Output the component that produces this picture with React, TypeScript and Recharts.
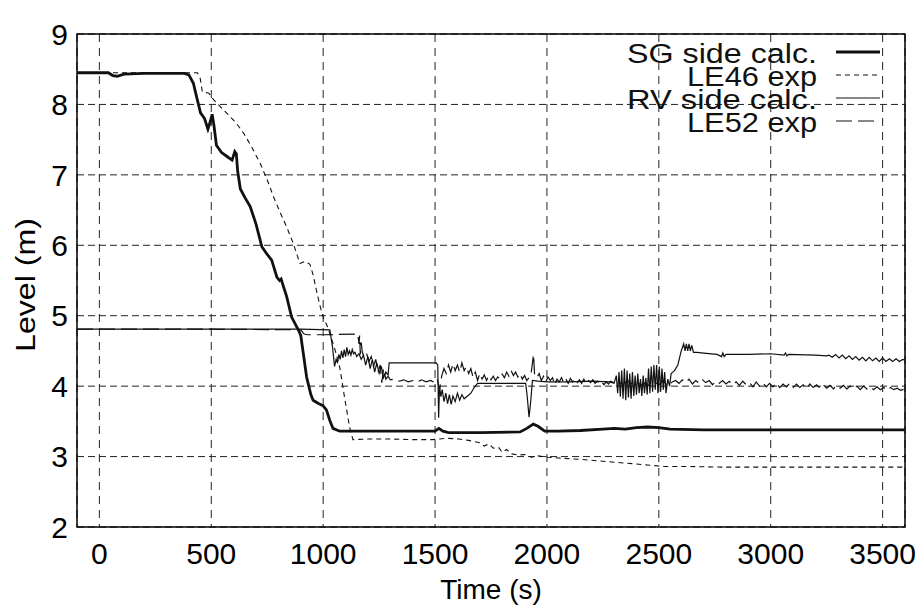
import {
  CartesianGrid,
  Legend,
  Line,
  LineChart,
  ReferenceArea,
  XAxis,
  YAxis,
} from "recharts";

type Pt = { t: number; v: number };

const FONT = '"Liberation Sans", Arial, Helvetica, sans-serif';
const INK = "#111";

// axis ticks
const xMajorTicks = [0, 500, 1000, 1500, 2000, 2500, 3000, 3500];
const yMajorTicks = [2, 3, 4, 5, 6, 7, 8, 9];
const xMinorTicks = [
  -100, 0, 100, 200, 300, 400, 500, 600, 700, 800, 900, 1000, 1100, 1200, 1300,
  1400, 1500, 1600, 1700, 1800, 1900, 2000, 2100, 2200, 2300, 2400, 2500, 2600,
  2700, 2800, 2900, 3000, 3100, 3200, 3300, 3400, 3500, 3600,
];
const yMinorTicks = [
  2, 2.2, 2.4, 2.6, 2.8, 3, 3.2, 3.4, 3.6, 3.8, 4, 4.2, 4.4, 4.6, 4.8, 5, 5.2,
  5.4, 5.6, 5.8, 6, 6.2, 6.4, 6.6, 6.8, 7, 7.2, 7.4, 7.6, 7.8, 8, 8.2, 8.4, 8.6,
  8.8, 9,
];

// [time (s), level (m)]
const sgSideCalc: [number, number][] = [
  [-100, 8.45], [0, 8.45], [40, 8.45], [60, 8.41], [80, 8.4], [110, 8.43],
  [200, 8.44], [300, 8.44], [380, 8.44], [400, 8.42], [420, 8.3], [435, 8.1],
  [452, 7.88], [470, 7.8], [485, 7.65], [495, 7.75], [504, 7.86], [512, 7.7],
  [523, 7.42], [545, 7.32], [575, 7.25], [593, 7.21], [605, 7.33], [612, 7.3],
  [618, 7.05], [630, 6.8], [650, 6.68], [674, 6.55], [700, 6.3], [726, 5.98],
  [750, 5.87], [770, 5.79], [793, 5.55], [805, 5.5], [812, 5.52], [837, 5.27],
  [859, 4.98], [889, 4.8], [900, 4.72], [926, 4.13], [945, 3.88], [955, 3.8],
  [975, 3.76], [1000, 3.72], [1015, 3.66], [1029, 3.52], [1044, 3.4],
  [1074, 3.36], [1200, 3.36], [1400, 3.36], [1500, 3.36], [1517, 3.4],
  [1535, 3.36], [1560, 3.34], [1700, 3.34], [1880, 3.35], [1910, 3.4],
  [1939, 3.46], [1960, 3.43], [1990, 3.36], [2050, 3.36], [2150, 3.37],
  [2250, 3.39], [2300, 3.4], [2350, 3.39], [2400, 3.41], [2450, 3.42],
  [2500, 3.41], [2550, 3.39], [2700, 3.38], [3000, 3.38], [3300, 3.38],
  [3600, 3.38],
];

const le46Exp: [number, number][] = [
  [-100, 8.45], [200, 8.45], [400, 8.45], [438, 8.45], [450, 8.38], [460, 8.18],
  [489, 8.16], [512, 8.06], [540, 7.97], [571, 7.87], [610, 7.74], [645, 7.59],
  [680, 7.4], [719, 7.16], [750, 6.93], [778, 6.69], [810, 6.45], [837, 6.26],
  [866, 6.03], [896, 5.74], [918, 5.77], [941, 5.73], [955, 5.58], [970, 5.36],
  [985, 5.15], [1000, 4.98], [1020, 4.84], [1050, 4.55], [1074, 4.27],
  [1095, 3.85], [1118, 3.42], [1133, 3.24], [1200, 3.25], [1300, 3.25],
  [1400, 3.24], [1488, 3.24], [1550, 3.26], [1606, 3.25], [1650, 3.23],
  [1695, 3.2], [1720, 3.15], [1740, 3.18], [1760, 3.12], [1784, 3.13],
  [1800, 3.06], [1820, 3.1], [1840, 3.04], [1872, 3.02], [1900, 3.03],
  [1930, 2.99], [1960, 3.01], [2005, 2.99], [2050, 2.98], [2100, 2.97],
  [2150, 2.96], [2227, 2.94], [2300, 2.92], [2380, 2.9], [2449, 2.88],
  [2523, 2.86], [2600, 2.86], [2800, 2.85], [3000, 2.85], [3300, 2.85],
  [3600, 2.85],
];

const rvSideCalc: [number, number][] = [
  [-100, 4.81], [500, 4.81], [900, 4.81], [1030, 4.8], [1042, 4.55],
  [1051, 4.28], [1058, 4.38], [1064, 4.34], [1070, 4.45], [1076, 4.38],
  [1082, 4.5], [1088, 4.4], [1094, 4.52], [1100, 4.42], [1106, 4.55],
  [1112, 4.45], [1118, 4.5], [1124, 4.44], [1130, 4.52], [1136, 4.46],
  [1142, 4.48], [1150, 4.42], [1160, 4.46], [1170, 4.38], [1180, 4.44],
  [1190, 4.3], [1200, 4.42], [1210, 4.25], [1220, 4.38], [1230, 4.2],
  [1240, 4.33], [1250, 4.18], [1260, 4.28], [1270, 4.12], [1280, 4.2],
  [1290, 4.16], [1295, 4.33], [1400, 4.33], [1505, 4.33], [1512, 4.3],
  [1516, 3.55], [1520, 4.0], [1526, 3.85], [1532, 3.95], [1540, 3.78],
  [1548, 3.9], [1556, 3.75], [1564, 3.88], [1572, 3.74], [1580, 3.86],
  [1590, 3.78], [1600, 3.9], [1610, 3.8], [1620, 3.88], [1630, 3.82],
  [1645, 3.86], [1660, 3.9], [1675, 3.98], [1690, 4.04], [1750, 4.04],
  [1850, 4.04], [1905, 4.04], [1912, 3.85], [1920, 3.56], [1928, 3.8],
  [1935, 4.08], [1960, 4.07], [2000, 4.06], [2100, 4.06], [2200, 4.07],
  [2280, 4.06], [2300, 4.04], [2310, 4.15], [2316, 3.9], [2322, 4.2],
  [2328, 3.85], [2334, 4.22], [2340, 3.82], [2346, 4.25], [2352, 3.8],
  [2358, 4.22], [2364, 3.84], [2370, 4.18], [2376, 3.82], [2382, 4.2],
  [2388, 3.86], [2394, 4.15], [2400, 3.88], [2406, 4.18], [2412, 3.9],
  [2418, 4.1], [2424, 3.86], [2430, 4.15], [2436, 3.9], [2442, 4.12],
  [2448, 3.88], [2454, 4.25], [2460, 3.9], [2466, 4.28], [2472, 3.92],
  [2478, 4.3], [2484, 3.95], [2490, 4.3], [2496, 3.9], [2502, 4.28],
  [2508, 3.92], [2514, 4.25], [2520, 3.95], [2526, 4.2], [2532, 3.9],
  [2540, 4.1], [2548, 4.0], [2555, 4.18], [2570, 4.22], [2585, 4.3],
  [2600, 4.5], [2611, 4.6], [2617, 4.5], [2623, 4.6], [2629, 4.5],
  [2635, 4.6], [2641, 4.5], [2647, 4.58], [2655, 4.48], [2670, 4.48],
  [2700, 4.47], [2760, 4.45], [2780, 4.42], [2786, 4.47], [2792, 4.42],
  [2800, 4.45], [2900, 4.45], [3000, 4.46], [3060, 4.44], [3066, 4.47],
  [3072, 4.43], [3080, 4.45], [3200, 4.44], [3250, 4.43], [3260, 4.44],
  [3275, 4.41], [3290, 4.45], [3305, 4.4], [3320, 4.44], [3335, 4.39],
  [3350, 4.43], [3365, 4.38], [3380, 4.42], [3395, 4.37], [3410, 4.41],
  [3425, 4.36], [3440, 4.41], [3455, 4.36], [3470, 4.4], [3485, 4.35],
  [3500, 4.4], [3515, 4.35], [3530, 4.39], [3545, 4.35], [3560, 4.39],
  [3575, 4.35], [3590, 4.38], [3600, 4.37],
];

const le52Exp: [number, number][] = [
  [-100, 4.81], [400, 4.81], [900, 4.8], [915, 4.74], [930, 4.73], [1000, 4.73],
  [1155, 4.74], [1160, 4.6], [1163, 4.72], [1166, 4.45], [1170, 4.62],
  [1175, 4.48], [1185, 4.4], [1195, 4.45], [1205, 4.35], [1215, 4.42],
  [1225, 4.28], [1235, 4.38], [1245, 4.2], [1255, 4.3], [1262, 4.05],
  [1270, 4.25], [1280, 4.1], [1290, 4.14], [1300, 4.09], [1320, 4.1],
  [1340, 4.07], [1360, 4.09], [1380, 4.06], [1400, 4.08], [1420, 4.06],
  [1440, 4.09], [1460, 4.06], [1480, 4.08], [1500, 4.05], [1510, 4.1],
  [1520, 3.95], [1530, 4.15], [1540, 4.25], [1550, 4.18], [1560, 4.3],
  [1570, 4.2], [1580, 4.32], [1590, 4.22], [1600, 4.3], [1610, 4.2],
  [1620, 4.33], [1630, 4.22], [1640, 4.28], [1650, 4.18], [1660, 4.25],
  [1670, 4.12], [1680, 4.2], [1690, 4.08], [1700, 4.18], [1710, 4.1],
  [1720, 4.16], [1730, 4.08], [1740, 4.15], [1750, 4.09], [1760, 4.14],
  [1770, 4.08], [1780, 4.13], [1790, 4.1], [1800, 4.17], [1810, 4.12],
  [1820, 4.2], [1830, 4.14], [1840, 4.22], [1850, 4.15], [1860, 4.2],
  [1870, 4.13], [1880, 4.18], [1890, 4.1], [1900, 4.15], [1910, 4.08],
  [1920, 4.12], [1930, 4.2], [1940, 4.45], [1945, 4.15], [1955, 4.12],
  [1965, 4.18], [1975, 4.08], [1985, 4.14], [1995, 4.06], [2005, 4.13],
  [2015, 4.08], [2025, 4.12], [2035, 4.02], [2045, 4.1], [2055, 4.06],
  [2065, 4.12], [2075, 4.05], [2085, 4.1], [2095, 4.04], [2105, 4.11],
  [2115, 4.06], [2125, 4.1], [2135, 4.05], [2145, 4.09], [2155, 4.04],
  [2165, 4.1], [2175, 4.03], [2185, 4.08], [2195, 4.05], [2205, 4.09],
  [2215, 4.04], [2225, 4.07], [2235, 4.03], [2245, 4.06], [2255, 4.02],
  [2265, 4.06], [2275, 4.03], [2285, 4.07], [2300, 4.05], [2320, 4.06],
  [2340, 4.02], [2360, 4.08], [2380, 4.03], [2400, 4.06], [2420, 4.02],
  [2440, 4.05], [2460, 4.0], [2480, 4.06], [2500, 4.02], [2520, 4.08],
  [2540, 4.0], [2560, 4.06], [2575, 4.08], [2590, 4.04], [2605, 4.09],
  [2620, 4.05], [2635, 4.1], [2650, 4.03], [2665, 4.08], [2680, 4.04],
  [2695, 4.09], [2710, 4.05], [2725, 4.08], [2740, 4.02], [2755, 4.07],
  [2770, 4.04], [2785, 4.08], [2800, 4.03], [2815, 4.07], [2830, 4.02],
  [2845, 4.06], [2860, 4.01], [2875, 4.07], [2890, 4.02], [2905, 4.05],
  [2920, 3.99], [2935, 4.06], [2950, 4.0], [2965, 4.05], [2980, 3.99],
  [2995, 4.04], [3010, 3.99], [3025, 4.05], [3040, 3.98], [3055, 4.03],
  [3070, 3.99], [3085, 4.04], [3100, 3.98], [3115, 4.03], [3130, 3.98],
  [3145, 4.02], [3160, 3.97], [3175, 4.03], [3190, 3.98], [3205, 4.02],
  [3220, 3.97], [3235, 4.02], [3250, 3.97], [3265, 4.01], [3280, 3.96],
  [3295, 4.01], [3310, 3.97], [3325, 4.01], [3340, 3.96], [3355, 4.0],
  [3370, 3.96], [3385, 4.0], [3400, 3.95], [3415, 4.0], [3430, 3.96],
  [3445, 3.99], [3460, 3.95], [3475, 3.99], [3490, 3.95], [3505, 3.98],
  [3520, 3.94], [3535, 3.98], [3550, 3.95], [3565, 3.97], [3580, 3.94],
  [3600, 3.96],
];

const toPoints = (rows: [number, number][]): Pt[] => rows.map(([t, v]) => ({ t, v }));

const series = [
  { name: "SG side calc.", data: toPoints(sgSideCalc), width: 2.8, dash: undefined, textLen: 190 },
  { name: "LE46 exp", data: toPoints(le46Exp), width: 1.1, dash: "5 4", textLen: 130 },
  { name: "RV side calc.", data: toPoints(rvSideCalc), width: 1.2, dash: undefined, textLen: 190 },
  { name: "LE52 exp", data: toPoints(le52Exp), width: 1.2, dash: "16 6", textLen: 130 },
];

// legend box sits at page (540, 28)
function KeyBox() {
  return (
    <svg width={350} height={110} style={{ display: "block", overflow: "visible" }}>
      {series.map((s, i) => {
        const cy = 25 + i * 23;
        return (
          <g key={s.name}>
            <text
              x={277}
              y={cy + 10}
              textAnchor="end"
              textLength={s.textLen}
              lengthAdjust="spacingAndGlyphs"
              fontFamily={FONT}
              fontSize={27}
              fill={INK}
            >
              {s.name}
            </text>
            <line
              x1={296}
              x2={340}
              y1={cy - 1}
              y2={cy - 1}
              stroke={INK}
              strokeWidth={s.width}
              strokeDasharray={s.dash}
            />
          </g>
        );
      })}
    </svg>
  );
}

const tickStyle = { fontSize: 30, fill: "#000", fontFamily: FONT };
const minorLine = { stroke: "#000", strokeWidth: 1 };

export default function App() {
  return (
    <div style={{ position: "absolute", left: 0, top: 0, background: "#fff" }}>
      <LineChart width={922} height={613} margin={{ top: 34, right: 17, bottom: 0, left: 0 }}>
        <XAxis
          xAxisId="main"
          type="number"
          dataKey="t"
          domain={[-100, 3600]}
          allowDataOverflow
          ticks={xMajorTicks}
          interval={0}
          height={86}
          axisLine={false}
          tickLine={false}
          tickSize={0}
          tickMargin={16}
          tick={tickStyle}
          label={{
            content: () => (
              <text x={491} y={599} textAnchor="middle" fontFamily={FONT} fontSize={28} fill="#000">
                Time (s)
              </text>
            ),
          }}
        />
        <YAxis
          yAxisId="main"
          type="number"
          domain={[2, 9]}
          allowDataOverflow
          ticks={yMajorTicks}
          interval={0}
          width={77}
          axisLine={false}
          tickLine={false}
          tickSize={0}
          tickMargin={9}
          tick={tickStyle}
          label={{
            content: () => (
              <text
                x={25}
                y={285}
                transform="rotate(-90 25 285)"
                textAnchor="middle"
                dominantBaseline="central"
                textLength={134}
                lengthAdjust="spacingAndGlyphs"
                fontFamily={FONT}
                fontSize={28}
                fill="#000"
              >
                Level (m)
              </text>
            ),
          }}
        />
        {/* inward minor ticks on all four sides */}
        <XAxis xAxisId="minB" type="number" orientation="bottom" mirror domain={[-100, 3600]} allowDataOverflow ticks={xMinorTicks} interval={0} axisLine={false} tick={false} tickSize={5} tickLine={minorLine} />
        <XAxis xAxisId="minT" type="number" orientation="top" mirror domain={[-100, 3600]} allowDataOverflow ticks={xMinorTicks} interval={0} axisLine={false} tick={false} tickSize={5} tickLine={minorLine} />
        <YAxis yAxisId="minL" type="number" orientation="left" mirror domain={[2, 9]} allowDataOverflow ticks={yMinorTicks} interval={0} axisLine={false} tick={false} tickSize={5} tickLine={minorLine} />
        <YAxis yAxisId="minR" type="number" orientation="right" mirror domain={[2, 9]} allowDataOverflow ticks={yMinorTicks} interval={0} axisLine={false} tick={false} tickSize={5} tickLine={minorLine} />
        <CartesianGrid
          xAxisId="main"
          yAxisId="main"
          vertical={false}
          stroke="#222"
          strokeDasharray="7 4"
          strokeWidth={1}
        />
        <CartesianGrid
          xAxisId="main"
          yAxisId="main"
          horizontal={false}
          stroke="#222"
          strokeDasharray="8 6"
          strokeWidth={1}
        />
        <ReferenceArea
          xAxisId="main"
          yAxisId="main"
          x1={-100}
          x2={3600}
          y1={2}
          y2={9}
          fill="none"
          stroke="#000"
          strokeWidth={1.5}
          ifOverflow="visible"
        />
        {series.map((s) => (
          <Line
            key={s.name}
            xAxisId="main"
            yAxisId="main"
            data={s.data}
            dataKey="v"
            name={s.name}
            type="linear"
            stroke={INK}
            strokeWidth={s.width}
            strokeDasharray={s.dash}
            dot={false}
            activeDot={false}
            isAnimationActive={false}
          />
        ))}
        <Legend
          layout="vertical"
          align="center"
          verticalAlign="middle"
          content={() => <KeyBox />}
          wrapperStyle={{ left: 540, top: 28, width: 350, height: 110 }}
        />
      </LineChart>
    </div>
  );
}
